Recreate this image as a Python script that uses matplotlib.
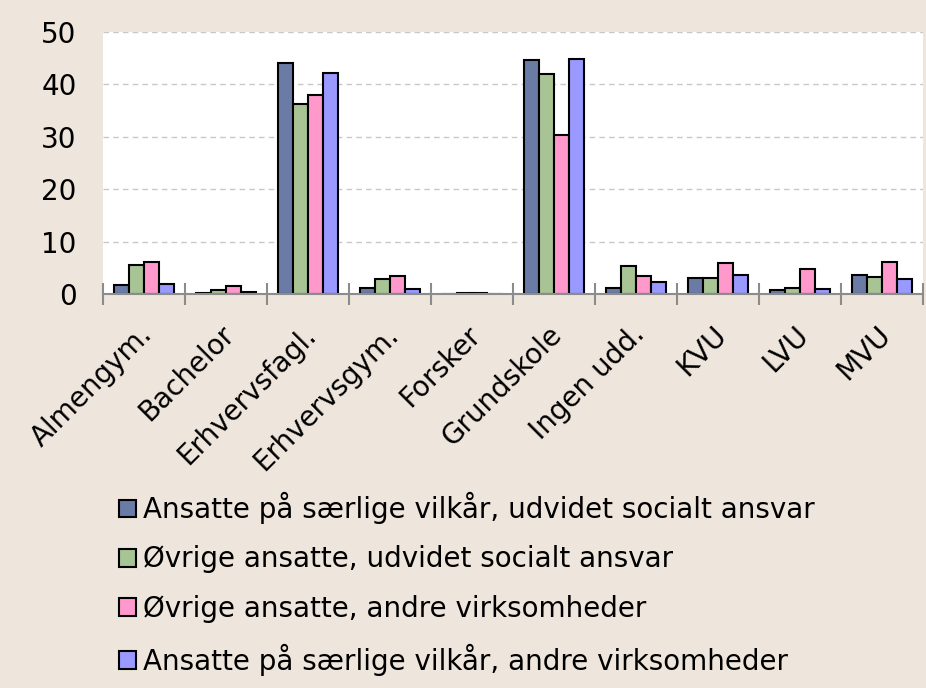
import numpy as np
import matplotlib.pyplot as plt
import matplotlib.transforms as mtransforms
from matplotlib.patches import Patch

categories = ["Almengym.", "Bachelor", "Erhvervsfagl.", "Erhvervsgym.", "Forsker",
              "Grundskole", "Ingen udd.", "KVU", "LVU", "MVU"]
series_names = ["Ansatte på særlige vilkår, udvidet socialt ansvar",
                "Øvrige ansatte, udvidet socialt ansvar",
                "Øvrige ansatte, andre virksomheder",
                "Ansatte på særlige vilkår, andre virksomheder"]
saerlige_udvidet = [1.8, 0.2, 44.0, 1.1, 0.0, 44.7, 1.1, 3.0, 0.8, 3.7]
oevrige_udvidet = [5.6, 0.8, 36.2, 2.9, 0.2, 41.9, 5.3, 3.1, 1.1, 3.3]
oevrige_andre = [6.2, 1.6, 37.9, 3.4, 0.2, 30.4, 3.4, 5.9, 4.8, 6.1]
saerlige_andre = [1.9, 0.3, 42.1, 0.9, 0.05, 44.9, 2.2, 3.7, 0.9, 2.9]
yticks = [0, 10, 20, 30, 40, 50]

colors = ["#6A7BA6", "#A8C495", "#FF99CC", "#9999FF"]
bg = "#EEE5DC"
fs = 20

W, H = 926, 688
fig = plt.figure(figsize=(W / 100, H / 100), dpi=100, facecolor=bg)
ax = fig.add_axes([103 / W, 1 - 294 / H, (923 - 103) / W, (294 - 32) / H])
ax.set_facecolor("white")

x = np.arange(len(categories))
bw = 0.185
all_series = [saerlige_udvidet, oevrige_udvidet, oevrige_andre, saerlige_andre]
for i, vals in enumerate(all_series):
    ax.bar(x + (i - 1.5) * bw, vals, bw, color=colors[i], edgecolor="black",
           linewidth=1.5, zorder=3)

ax.set_xlim(-0.5, len(categories) - 0.5)
ax.set_ylim(0, 50)
ax.set_yticks(yticks)
ax.set_yticklabels([str(v) for v in yticks], fontsize=fs)
ax.tick_params(axis="y", length=0, pad=19)
ax.yaxis.grid(True, linestyle=(0, (4, 3)), color="#C8C8C8", linewidth=1, zorder=0)

ax.set_xticks(np.arange(len(categories) + 1) - 0.5)
ax.set_xticklabels([])
ax.set_xticks(x, minor=True)
ax.set_xticklabels(categories, minor=True, rotation=45, ha="right",
                   rotation_mode="anchor", fontsize=fs)
ax.tick_params(axis="x", which="major", direction="inout", length=16,
               color="#8C8C8C", width=1.5)
ax.tick_params(axis="x", which="minor", length=0, pad=19)
shift = mtransforms.ScaledTranslation(-6 / 100, 0, fig.dpi_scale_trans)
for lab in ax.get_xticklabels(minor=True):
    lab.set_transform(lab.get_transform() + shift)

for s in ["top", "right", "left"]:
    ax.spines[s].set_visible(False)
ax.spines["bottom"].set_color("#8C8C8C")
ax.spines["bottom"].set_linewidth(1.5)
ax.spines["bottom"].set_zorder(4)

handles = [Patch(facecolor=c, edgecolor="black", linewidth=1.5) for c in colors]
fig.legend(handles, series_names, loc="upper left",
           bbox_to_anchor=(108 / W, 1 - 481 / H), frameon=False, fontsize=fs,
           handlelength=0.61, handleheight=0.61, handletextpad=0.25,
           labelspacing=0.76, borderaxespad=0)

fig.savefig("out.png", dpi=100, facecolor=bg)
